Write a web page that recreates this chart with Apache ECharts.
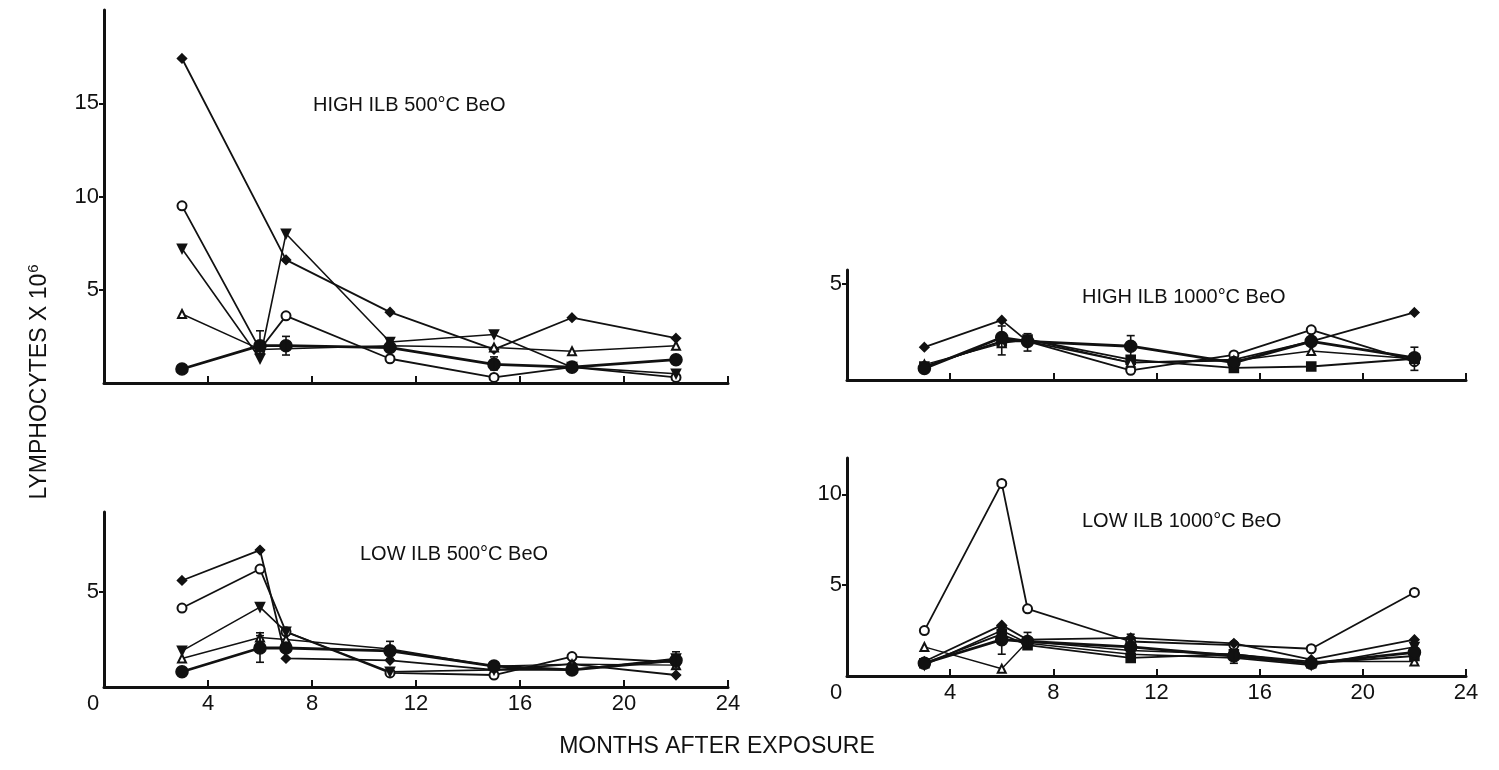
<!DOCTYPE html>
<html>

<head>
	<meta charset="UTF-8">
	<title>Lymphocytes after BeO exposure</title>
	<style>
		html, body {
			margin: 0;
			padding: 0;
			background: #fff;
		}
		#chart {
			width: 1499px;
			height: 770px;
		}
	</style>
	<script src="https://cdn.jsdelivr.net/npm/echarts@6/dist/echarts.min.js"></script>
</head>

<body>
	<div id="chart"></div>
	<script>
		// sampling times (months after exposure)
		var months = [3, 6, 7, 11, 15, 18, 22];

		// HIGH ILB 500°C BeO
		var hi500Diamond = [17.4, null, 6.6, 3.8, 1.8, 3.5, 2.4];
		var hi500Circle = [9.5, 1.8, 3.6, 1.3, 0.3, 0.85, 0.3];
		var hi500Down = [7.2, 1.3, 8.0, 2.2, 2.6, 0.85, 0.5];
		var hi500Tri = [3.7, 1.8, null, 2.0, 1.9, 1.7, 2.0];
		var hi500Mean = [0.75, 2.0, 2.0, 1.9, 1.0, 0.85, 1.25];
		var hi500Err = [[6, 1.5, 2.8], [7, 1.5, 2.5], [11, 1.7, 2.2], [15, 0.7, 1.4]];

		// HIGH ILB 1000°C BeO
		var hi1000Diamond = [1.7, 3.1, 2.0, 0.9, 1.05, 2.0, 3.5];
		var hi1000Circle = [0.7, 2.0, 2.0, 0.5, 1.3, 2.6, 0.95];
		var hi1000Square = [0.7, 2.0, 2.1, 1.05, 0.63, 0.7, 1.1];
		var hi1000Tri = [0.8, 1.9, 2.1, 0.9, 1.0, 1.5, 1.1];
		var hi1000Mean = [0.6, 2.2, 2.0, 1.75, 0.9, 2.0, 1.15];
		var hi1000Err = [[6, 1.3, 2.8], [7, 1.5, 2.4], [11, 1.2, 2.3], [22, 0.5, 1.7]];

		// LOW ILB 500°C BeO
		var lo500Diamond = [5.6, 7.2, 1.5, 1.4, 0.9, 1.2, 0.63];
		var lo500Circle = [4.15, 6.2, 2.9, 0.74, 0.63, 1.6, 1.3];
		var lo500Down = [1.9, 4.2, 2.9, 0.8, 0.9, 0.9, 1.5];
		var lo500Tri = [1.5, 2.6, 2.5, 2.0, 1.1, 1.2, 1.15];
		var lo500Mean = [0.8, 2.05, 2.05, 1.9, 1.1, 0.9, 1.4];
		var lo500Err = [[6, 2.3, 2.85], [6, 1.3, 2.7], [11, 1.5, 2.4], [22, 1.0, 1.85]];

		// LOW ILB 1000°C BeO
		var lo1000Circle = [2.5, 10.6, 3.7, 1.9, 1.7, 1.5, 4.6];
		var lo1000Tri = [1.6, 0.4, 1.9, 1.4, 1.2, 0.8, 0.8];
		var lo1000Diamond = [0.8, 2.8, 2.0, 2.1, 1.8, 0.9, 2.0];
		var lo1000Down = [0.6, 2.5, 1.8, 1.2, 1.0, 0.6, 1.6];
		var lo1000Square = [0.7, 2.3, 1.7, 1.0, 1.2, 0.7, 1.1];
		var lo1000Mean = [0.7, 2.0, 1.9, 1.6, 1.1, 0.7, 1.3];
		var lo1000Err = [[6, 1.2, 2.5], [7, 1.6, 2.4], [11, 1.3, 2.3], [15, 0.7, 1.4]];

		var xTicks = [0, 4, 8, 12, 16, 20, 24];

		var INK = '#111';
		var FONT = '"Liberation Sans", Arial, Helvetica, sans-serif';

		// marker styles
		var marks = {
			diamond: { symbol: 'diamond', size: 9, rotate: 0, width: 1.8 },
			circle: { symbol: 'emptyCircle', size: 9, rotate: 0, width: 1.8 },
			down: { symbol: 'triangle', size: 9, rotate: 180, width: 1.6 },
			tri: { symbol: 'emptyTriangle', size: 8, rotate: 0, width: 1.4 },
			square: { symbol: 'rect', size: 9, rotate: 0, width: 1.8 },
			mean: { symbol: 'circle', size: 12, rotate: 0, width: 2.8 }
		};

		var panels = [
			{
				title: 'HIGH ILB 500°C BeO', tx: 313, ty: 105,
				grid: { left: 104, top: 10, width: 624, height: 373 },
				yMax: 20, yTicks: [5, 10, 15], xLabels: false,
				lines: [['diamond', hi500Diamond], ['circle', hi500Circle], ['down', hi500Down],
					['tri', hi500Tri], ['mean', hi500Mean]],
				err: hi500Err
			},
			{
				title: 'HIGH ILB 1000°C BeO', tx: 1082, ty: 297,
				grid: { left: 847, top: 270, width: 619, height: 110 },
				yMax: 5.7, yTicks: [5], xLabels: false,
				lines: [['diamond', hi1000Diamond], ['circle', hi1000Circle], ['square', hi1000Square],
					['tri', hi1000Tri], ['mean', hi1000Mean]],
				err: hi1000Err
			},
			{
				title: 'LOW ILB 500°C BeO', tx: 360, ty: 554,
				grid: { left: 104, top: 512, width: 624, height: 175 },
				yMax: 9.2, yTicks: [5], xLabels: true,
				lines: [['diamond', lo500Diamond], ['circle', lo500Circle], ['down', lo500Down],
					['tri', lo500Tri], ['mean', lo500Mean]],
				err: lo500Err
			},
			{
				title: 'LOW ILB 1000°C BeO', tx: 1082, ty: 521,
				grid: { left: 847, top: 458, width: 619, height: 218 },
				yMax: 12, yTicks: [5, 10], xLabels: true,
				lines: [['circle', lo1000Circle], ['tri', lo1000Tri], ['diamond', lo1000Diamond],
					['down', lo1000Down], ['square', lo1000Square], ['mean', lo1000Mean]],
				err: lo1000Err
			}
		];

		var grids = [], xAxes = [], yAxes = [], series = [], graphics = [];

		panels.forEach(function (p, i) {
			grids.push(Object.assign({ outerBoundsMode: 'none', containLabel: false }, p.grid));

			xAxes.push({
				type: 'value',
				gridIndex: i,
				min: 0,
				max: 24,
				interval: 4,
				axisLine: { lineStyle: { color: INK, width: 3 } },
				axisTick: { inside: true, length: 7, lineStyle: { color: INK, width: 2 }, customValues: xTicks },
				splitLine: { show: false },
				axisLabel: {
					show: p.xLabels,
					customValues: xTicks,
					margin: 6,
					color: INK,
					fontSize: 22,
					fontFamily: FONT,
					formatter: function (v) {
						return v === 0 ? '{z|0}' : String(v);
					},
					rich: {
						z: { fontSize: 22, fontFamily: FONT, color: INK, padding: [0, 22, 0, 0] }
					}
				}
			});

			yAxes.push({
				type: 'value',
				gridIndex: i,
				min: 0,
				max: p.yMax,
				interval: 5,
				axisLine: { show: true, lineStyle: { color: INK, width: 3 } },
				axisTick: { show: true, inside: false, length: 5, lineStyle: { color: INK, width: 2 }, customValues: p.yTicks },
				splitLine: { show: false },
				axisLabel: {
					customValues: p.yTicks,
					margin: 5,
					color: INK,
					fontSize: 22,
					fontFamily: FONT,
					formatter: function (v) {
						return (v > 0 && v % 5 === 0) ? String(v) : '';
					}
				}
			});

			p.lines.forEach(function (ln) {
				var m = marks[ln[0]];
				var pts = [];
				months.forEach(function (mo, k) {
					if (ln[1][k] != null) pts.push([mo, ln[1][k]]);
				});
				series.push({
					type: 'line',
					xAxisIndex: i,
					yAxisIndex: i,
					data: pts,
					symbol: m.symbol,
					symbolSize: m.size,
					symbolRotate: m.rotate,
					showAllSymbol: true,
					lineStyle: { color: INK, width: m.width },
					itemStyle: { color: INK, borderColor: INK, borderWidth: 1.6 },
					emphasis: { disabled: true },
					z: 3
				});
			});

			series.push({
				type: 'custom',
				xAxisIndex: i,
				yAxisIndex: i,
				coordinateSystem: 'cartesian2d',
				data: p.err,
				encode: { x: 0, y: [1, 2] },
				z: 4,
				renderItem: function (params, api) {
					var lo = api.coord([api.value(0), api.value(1)]);
					var hi = api.coord([api.value(0), api.value(2)]);
					var w = 4;
					var st = { stroke: INK, lineWidth: 1.6 };
					return {
						type: 'group',
						children: [
							{ type: 'line', shape: { x1: lo[0], y1: lo[1], x2: hi[0], y2: hi[1] }, style: st },
							{ type: 'line', shape: { x1: lo[0] - w, y1: lo[1], x2: lo[0] + w, y2: lo[1] }, style: st },
							{ type: 'line', shape: { x1: hi[0] - w, y1: hi[1], x2: hi[0] + w, y2: hi[1] }, style: st }
						]
					};
				}
			});

			graphics.push({
				type: 'text',
				x: p.tx,
				y: p.ty,
				style: {
					text: p.title,
					fill: INK,
					font: '20px ' + FONT,
					align: 'left',
					verticalAlign: 'middle'
				}
			});
		});

		// shared axis titles
		graphics.push({
			type: 'text',
			x: 40,
			y: 382,
			rotation: Math.PI / 2,
			style: {
				text: '{a|LYMPHOCYTES X 10}{b|6}',
				align: 'center',
				verticalAlign: 'middle',
				rich: {
					a: { fontSize: 23, fontFamily: FONT, fill: INK },
					b: { fontSize: 15, fontFamily: FONT, fill: INK, padding: [0, 0, 12, 1] }
				}
			}
		});
		graphics.push({
			type: 'text',
			x: 717,
			y: 747,
			style: {
				text: 'MONTHS AFTER EXPOSURE',
				fill: INK,
				font: '23px ' + FONT,
				align: 'center',
				verticalAlign: 'middle'
			}
		});

		var myChart = echarts.init(document.getElementById('chart'));
		myChart.setOption({
			animation: false,
			backgroundColor: '#fff',
			grid: grids,
			xAxis: xAxes,
			yAxis: yAxes,
			series: series,
			graphic: graphics
		});
	</script>
</body>

</html>
